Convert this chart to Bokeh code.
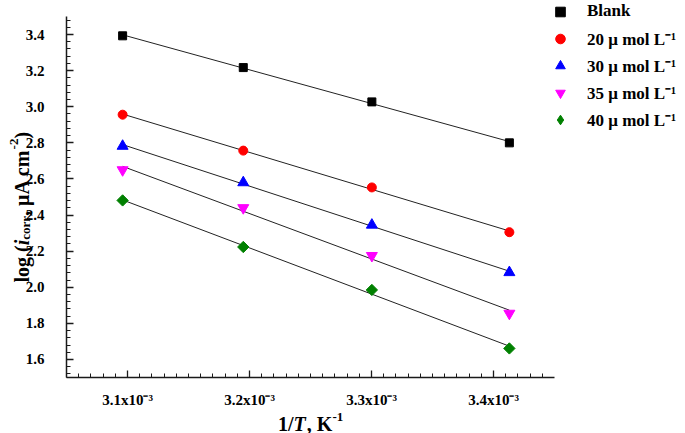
import numpy as np
from bokeh.plotting import figure
from bokeh.models import (Range1d, SingleIntervalTicker, CustomJSTickFormatter,
                          Legend, LegendItem)
from bokeh.core.properties import value
from bokeh.embed import file_html
from bokeh.resources import INLINE

# ---------------- data ----------------
inv_T = [3.0960e-3, 3.1949e-3, 3.3003e-3, 3.4130e-3]
series_names = ["Blank", "20 μ mol L⁻¹", "30 μ mol L⁻¹", "35 μ mol L⁻¹", "40 μ mol L⁻¹"]
blank = [3.393, 3.217, 3.027, 2.800]
c20 = [2.956, 2.757, 2.553, 2.305]
c30 = [2.782, 2.580, 2.345, 2.082]
c35 = [2.650, 2.440, 2.175, 1.855]
c40 = [2.481, 2.223, 1.985, 1.661]
series_values = [blank, c20, c30, c35, c40]

# ---------------- styles ----------------
colors = ["#000000", "#ff0000", "#0000ff", "#ff00ff", "#008000"]
markers = ["square", "circle", "triangle", "inverted_triangle", "square"]
legend_markers = ["square", "circle", "triangle", "inverted_triangle", "diamond"]
angles = [0.0, 0.0, 0.0, 0.0, np.pi / 4]
sizes = [8, 9, 11, 11, 8]
FONT = "Liberation Serif"
W, H = 685, 433

p = figure(width=W, height=H, output_backend="svg", toolbar_location=None,
           x_range=Range1d(3.05e-3, 3.45e-3), y_range=Range1d(1.5, 3.5),
           min_border_left=66, min_border_right=131, min_border_top=16,
           min_border_bottom=56)
p.outline_line_color = None
p.xgrid.visible = False
p.ygrid.visible = False

p.xaxis.ticker = SingleIntervalTicker(interval=1e-4, num_minor_ticks=10)
p.yaxis.ticker = SingleIntervalTicker(interval=0.2, num_minor_ticks=5)
p.xaxis.formatter = CustomJSTickFormatter(code="return (tick*1000).toFixed(1) + 'x10\u207b\u00b3';")
p.yaxis.formatter = CustomJSTickFormatter(code="return tick.toFixed(1);")

for ax in (p.xaxis[0], p.yaxis[0]):
    ax.axis_line_width = 1.5
    ax.axis_line_color = "#1a1a1a"
    ax.major_tick_in = 7
    ax.major_tick_out = 0
    ax.minor_tick_in = 4
    ax.minor_tick_out = 0
    ax.major_tick_line_width = 1.3
    ax.major_tick_line_color = "#1a1a1a"
    ax.minor_tick_line_width = 1
    ax.minor_tick_line_color = "#1a1a1a"
    ax.major_label_text_font = FONT
    ax.major_label_text_font_style = "bold"
    ax.major_label_text_font_size = "15px"
    ax.major_label_text_color = "black"
p.yaxis.major_label_standoff = 22
p.xaxis.major_label_standoff = 14

for ys, col, mk, ang, sz in zip(series_values, colors, markers, angles, sizes):
    k, b = np.polyfit(inv_T, ys, 1)
    xs_fit = [inv_T[0], inv_T[-1]]
    p.line(xs_fit, [k * xs_fit[0] + b, k * xs_fit[1] + b], line_color="#222222", line_width=1)
    p.scatter(inv_T, ys, marker=mk, size=sz, angle=ang, fill_color=col, line_color=col)

# ---------- transparent overlay canvas: legend and composed axis titles ----------
q = figure(width=W, height=H, output_backend="svg", toolbar_location=None,
           x_range=Range1d(0, W), y_range=Range1d(H, 0), min_border=0,
           x_axis_location=None, y_axis_location=None)
q.title.visible = False
q.outline_line_color = None
q.xgrid.visible = False
q.ygrid.visible = False
q.background_fill_alpha = 0
q.border_fill_alpha = 0
q.styles = {"position": "absolute", "left": "0px", "top": "0px", "pointer-events": "none"}

# legend keys: same marker styles as the series, with a single NaN (undrawn) point
items = []
for name, col, mk in zip(series_names, colors, legend_markers):
    r = q.scatter(x=np.array([np.nan]), y=np.array([np.nan]), marker=mk,
                  fill_color=col, line_color=col)
    items.append(LegendItem(label=name, renderers=[r]))

legend = Legend(items=items, location=(548, 300.5), orientation="vertical",
                padding=0, spacing=0, margin=0, glyph_width=24, glyph_height=27,
                label_height=27, label_standoff=15,
                label_text_font=FONT, label_text_font_style="bold",
                label_text_font_size="17px", label_text_color="black",
                border_line_alpha=0, background_fill_alpha=0)
q.add_layout(legend)


def lab(text, px, py, size, style="bold", angle=0.0):
    q.text(x=[px], y=[py], text=[text], text_font=value(FONT),
           text_font_style=style, text_font_size=f"{size}px", angle=angle,
           text_align="left", text_baseline="alphabetic", text_color="black")


R = np.pi / 2
# y-axis title: log (i_corr, μA cm^-2)
lab("log (", 21, 282.0, 20, angle=R)
lab("i", 21, 244.8, 20, style="bold italic", angle=R)
lab("corr", 25, 239.2, 13, angle=R)
lab(", μA cm", 21, 215.4, 20, angle=R)
lab("-2", 13, 148.9, 13, angle=R)
lab(")", 21, 138.1, 20, angle=R)

# x-axis title: 1/T, K^-1
lab("1/", 277.4, 423, 20)
lab("T", 293.0, 423, 20, style="bold italic")
lab(", K", 306.3, 423, 20)
lab("-1", 331.9, 416, 13)

open("out.html", "w").write(file_html([p, q], INLINE))
